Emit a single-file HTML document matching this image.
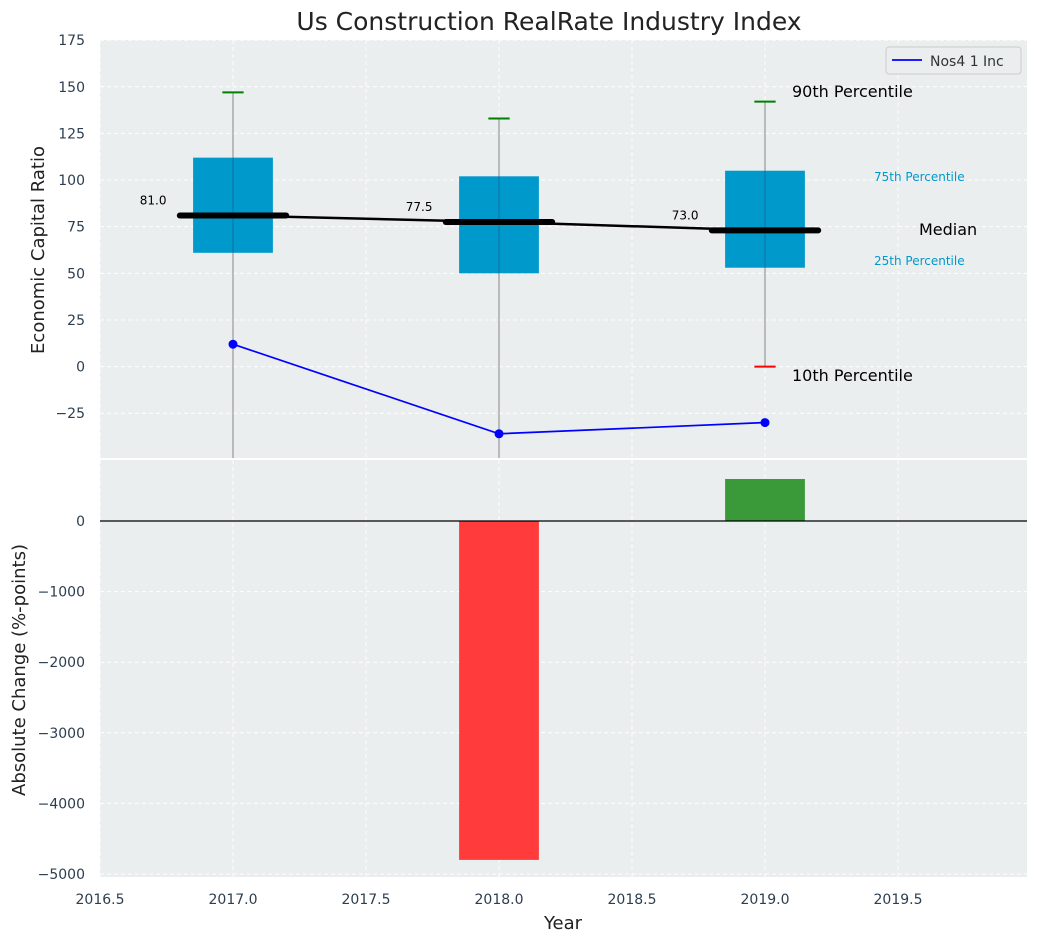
<!DOCTYPE html>
<html><head><meta charset="utf-8"><style>
body{margin:0;background:#fff;font-family:"Liberation Sans","DejaVu Sans",sans-serif}
svg text{font-family:"DejaVu Sans","Liberation Sans",sans-serif}
</style></head><body>
<svg id="c" width="1039" height="942" xmlns="http://www.w3.org/2000/svg"></svg>
<script>
const years=[2017,2018,2019];
const q1=[61,50,53], q3=[112,102,105], med=[81,77.5,73], hi=[147,133,142], lo=[-60,-60,0];
const lineVals=[12,-36,-30];
const changes=[0,-4800,595];
const yTicksTop=[-25,0,25,50,75,100,125,150,175];
const yTicksBot=[-5000,-4000,-3000,-2000,-1000,0];
const xTicks=[2016.5,2017,2017.5,2018,2018.5,2019,2019.5];
const NS="http://www.w3.org/2000/svg", svg=document.getElementById('c');
function el(t,a,txt){const e=document.createElementNS(NS,t);for(const k in a)e.setAttribute(k,a[k]);if(txt!=null)e.textContent=txt;svg.appendChild(e);return e;}
const L=100,R=1027,T1=40,B1=458,T2=460,B2=877;
const x=v=>L+(v-2016.5)*266;
const y1=v=>366.6-v*1.8656;
const y2=v=>521-v*0.0706;
let e;
e=el('rect',{x:L,y:T1,width:R-L,height:B1-T1,fill:'#eaeeee'});

e=el('rect',{x:L,y:T2,width:R-L,height:B2-T2,fill:'#eaeeee'});

xTicks.forEach(v=>{
 el('line',{x1:x(v),x2:x(v),y1:T1,y2:B1,stroke:'#fff','stroke-dasharray':'4,3','stroke-width':1});
 el('line',{x1:x(v),x2:x(v),y1:T2,y2:B2,stroke:'#fff','stroke-dasharray':'4,3','stroke-width':1});
 e=el('text',{x:x(v),y:904,'font-size':14,fill:'#2c3e50','text-anchor':'middle'},v.toFixed(1));
 
});
yTicksTop.forEach(v=>{
 el('line',{x1:L,x2:R,y1:y1(v),y2:y1(v),stroke:'#fff','stroke-dasharray':'4,3'});
 e=el('text',{x:85,y:y1(v)+5,'font-size':14,fill:'#2c3e50','text-anchor':'end'},v<0?'\u2212'+(-v):v);
 
});
yTicksBot.forEach(v=>{
 el('line',{x1:L,x2:R,y1:y2(v),y2:y2(v),stroke:'#fff','stroke-dasharray':'4,3'});
 e=el('text',{x:85,y:y2(v)+5,'font-size':14,fill:'#2c3e50','text-anchor':'end'},v<0?'\u2212'+(-v):v);
 
});
const cp=el('clipPath',{id:'cp1'});const cr=document.createElementNS(NS,'rect');
cr.setAttribute('x',L);cr.setAttribute('y',T1);cr.setAttribute('width',R-L);cr.setAttribute('height',B1-T1);cp.appendChild(cr);
const g=el('g',{'clip-path':'url(#cp1)'});
function ge(t,a){const n=el(t,a);g.appendChild(n);return n;}
years.forEach((yr,i)=>{
 e=ge('line',{x1:x(yr),x2:x(yr),y1:y1(hi[i]),y2:y1(lo[i]),stroke:'#888','stroke-width':1});
 
 e=ge('rect',{x:x(yr-0.15),y:y1(q3[i]),width:x(yr+0.15)-x(yr-0.15),height:y1(q1[i])-y1(q3[i]),fill:'#0099cc'});
 
 ge('line',{x1:x(yr),x2:x(yr),y1:y1(q3[i]),y2:y1(q1[i]),stroke:'#336',"stroke-opacity":0.4,'stroke-width':1});
 e=ge('line',{x1:x(yr-0.04),x2:x(yr+0.04),y1:y1(hi[i]),y2:y1(hi[i]),stroke:'green','stroke-width':2});
 
 if(lo[i]>-49){e=ge('line',{x1:x(yr-0.04),x2:x(yr+0.04),y1:y1(lo[i]),y2:y1(lo[i]),stroke:'red','stroke-width':2});
 }
});
let pts=years.map((yr,i)=>x(yr)+','+y1(med[i])).join(' ');
e=ge('polyline',{points:pts,fill:'none',stroke:'#000','stroke-width':2.5});

years.forEach((yr,i)=>{
 e=ge('line',{x1:x(yr-0.2),x2:x(yr+0.2),y1:y1(med[i]),y2:y1(med[i]),stroke:'#000','stroke-width':6,'stroke-linecap':'round'});
 
 e=el('text',{x:x(yr-0.25),y:y1(med[i])-11,'font-size':12,'text-anchor':'end',fill:'#000'},med[i].toFixed(1));
 
});
pts=years.map((yr,i)=>x(yr)+','+y1(lineVals[i])).join(' ');
e=ge('polyline',{points:pts,fill:'none',stroke:'blue','stroke-width':1.7});

years.forEach((yr,i)=>{e=ge('circle',{cx:x(yr),cy:y1(lineVals[i]),r:4.5,fill:'blue'});
 });
const ann=[[792,97,'90th Percentile',16,'#000'],[874,181,'75th Percentile',12,'#0099cc'],[919,235,'Median',16,'#000'],[874,265,'25th Percentile',12,'#0099cc'],[792,381,'10th Percentile',16,'#000']];
ann.forEach(a=>{e=el('text',{x:a[0],y:a[1],'font-size':a[3],fill:a[4]},a[2]);});
years.forEach((yr,i)=>{if(!changes[i])return;
 const v=changes[i];
 e=el('rect',{x:x(yr-0.15),y:Math.min(y2(0),y2(v)),width:x(yr+0.15)-x(yr-0.15),height:Math.abs(y2(v)-y2(0)),fill:v<0?'#ff3b3b':'#3a9a3a'});
 
});
el('line',{x1:L,x2:R,y1:y2(0),y2:y2(0),stroke:'#000','stroke-width':1.2});
e=el('rect',{x:886,y:47,width:135,height:27,rx:3,fill:'#eaeeee',stroke:'#ccc'});

el('line',{x1:892,x2:922,y1:60,y2:60,stroke:'blue','stroke-width':1.7});
e=el('text',{x:930,y:66,'font-size':14,fill:'#333'},'Nos4 1 Inc');

e=el('text',{x:549,y:30,'font-size':25,'text-anchor':'middle',fill:'#222'},'Us Construction RealRate Industry Index');

e=el('text',{x:563,y:929,'font-size':18,'text-anchor':'middle',fill:'#222'},'Year');

e=el('text',{x:0,y:0,'font-size':18,'text-anchor':'middle',fill:'#222',transform:'translate(44,250) rotate(-90)'},'Economic Capital Ratio');

e=el('text',{x:0,y:0,'font-size':18,'text-anchor':'middle',fill:'#222',transform:'translate(25,670) rotate(-90)'},'Absolute Change (%-points)');

</script>
</body></html>
